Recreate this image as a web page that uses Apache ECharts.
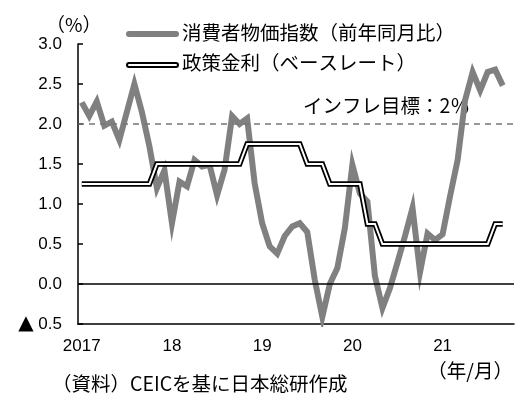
<!DOCTYPE html>
<html>
<head>
<meta charset="utf-8">
<script src="https://cdn.jsdelivr.net/npm/echarts@6/dist/echarts.min.js"></script>
<style>
  html, body { margin: 0; padding: 0; background: #fff; }
  #chart { width: 517px; height: 403px; }
</style>
</head>
<body>
<div id="chart"></div>
<script>
// Year labels placed under each January
const yearLabels = ['2017', '18', '19', '20', '21'];

// Monthly categories: Jan 2017 – Oct 2021
const months = [];
yearLabels.forEach(function (label, k) {
  for (let m = 1; m <= 12; m++) months.push((2017 + k) + '/' + m);
});
months.length = 58;

// Consumer price index, year-on-year change (%)
const cpi = [
  2.27, 2.10, 2.28, 1.98, 2.03, 1.80, 2.15, 2.50, 2.15, 1.72, 1.20, 1.42,
  0.76, 1.28, 1.22, 1.55, 1.47, 1.49, 1.11, 1.43, 2.10, 2.00, 2.07, 1.26,
  0.76, 0.47, 0.38, 0.60, 0.72, 0.76, 0.65, 0.05, -0.41, 0.00, 0.20, 0.70,
  1.49, 1.13, 1.03, 0.10, -0.30, -0.05, 0.27, 0.60, 0.95, 0.15, 0.63, 0.55,
  0.62, 1.10, 1.55, 2.30, 2.65, 2.42, 2.65, 2.68, 2.48
];

// Policy rate (base rate, %)
const policyRate = [
  1.25, 1.25, 1.25, 1.25, 1.25, 1.25, 1.25, 1.25, 1.25, 1.25, 1.50, 1.50,
  1.50, 1.50, 1.50, 1.50, 1.50, 1.50, 1.50, 1.50, 1.50, 1.50, 1.75, 1.75,
  1.75, 1.75, 1.75, 1.75, 1.75, 1.75, 1.50, 1.50, 1.50, 1.25, 1.25, 1.25,
  1.25, 1.25, 0.75, 0.75, 0.50, 0.50, 0.50, 0.50, 0.50, 0.50, 0.50, 0.50,
  0.50, 0.50, 0.50, 0.50, 0.50, 0.50, 0.50, 0.75, 0.75
];

// Inflation target (%)
const inflationTarget = 2;

const cpiName = '消費者物価指数（前年同月比）';
const rateName = '政策金利（ベースレート）';

const NUM_FONT = "'Liberation Sans', Arial, 'Noto Sans CJK JP', sans-serif";
const JP_FONT = "'Noto Sans CJK JP', 'Noto Sans', sans-serif";
const JP_SIZE = '19.5px ';
const GRAY = '#808080';

const chart = echarts.init(document.getElementById('chart'), null, { renderer: 'canvas' });

const option = {
  animation: false,
  backgroundColor: '#fff',
  grid: { left: 78, right: 3, top: 44, bottom: 79, containLabel: false },
  xAxis: {
    type: 'category',
    data: months,
    boundaryGap: true,
    axisLine: { onZero: false, lineStyle: { color: '#000', width: 1.5 } },
    axisTick: { interval: 11, length: 5, lineStyle: { color: '#000', width: 1.5 } },
    axisLabel: {
      interval: 11,
      margin: 14,
      color: '#000',
      fontFamily: NUM_FONT,
      fontSize: 17,
      formatter: function (value, idx) { return yearLabels[Math.floor(idx / 12)]; }
    },
    splitLine: { show: false }
  },
  yAxis: {
    type: 'value',
    min: -0.5,
    max: 3.0,
    interval: 0.5,
    axisLine: { show: true, lineStyle: { color: '#000', width: 1.5 } },
    axisTick: { show: true, inside: true, length: 5, lineStyle: { color: '#000', width: 1.5 } },
    axisLabel: {
      margin: 16,
      color: '#000',
      fontFamily: NUM_FONT,
      fontSize: 17,
      formatter: function (v) {
        return v < 0 ? '{tri|▲}{num| ' + Math.abs(v).toFixed(1) + '}' : v.toFixed(1);
      },
      rich: {
        tri: { fontFamily: "'DejaVu Sans', sans-serif", fontSize: 20, color: '#000' },
        num: { fontFamily: NUM_FONT, fontSize: 17, color: '#000' }
      }
    },
    splitLine: { show: false }
  },
  series: [
    {
      name: cpiName,
      type: 'line',
      data: cpi,
      showSymbol: false,
      z: 2,
      lineStyle: { color: GRAY, width: 6, join: 'miter' },
      markLine: {
        silent: true,
        symbol: 'none',
        label: { show: false },
        data: [
          { yAxis: inflationTarget, lineStyle: { color: '#777', width: 1.5, type: [6, 5] } }
        ]
      }
    },
    {
      name: rateName,
      type: 'line',
      data: policyRate,
      showSymbol: false,
      z: 3,
      lineStyle: { color: '#000', width: 5.5, join: 'miter' },
      markLine: {
        silent: true,
        symbol: 'none',
        label: { show: false },
        data: [
          { yAxis: 0, lineStyle: { color: '#000', width: 1.5, type: 'solid' } }
        ]
      }
    },
    {
      name: rateName + ' inner',
      type: 'line',
      data: policyRate,
      showSymbol: false,
      z: 4,
      lineStyle: { color: '#fff', width: 2, join: 'miter' }
    }
  ],
  graphic: [
    // unit
    { type: 'text', left: 46, top: 15, style: { text: '（%）', font: '19px ' + JP_FONT, fill: '#000' } },
    // legend: CPI
    { type: 'line', shape: { x1: 129, y1: 34, x2: 176, y2: 34 }, style: { stroke: GRAY, lineWidth: 6, lineCap: 'round' } },
    { type: 'text', left: 182, top: 23, style: { text: cpiName, font: JP_SIZE + JP_FONT, fill: '#000' } },
    // legend: policy rate (double line)
    { type: 'line', shape: { x1: 129, y1: 65, x2: 176, y2: 65 }, style: { stroke: '#000', lineWidth: 6, lineCap: 'round' } },
    { type: 'line', shape: { x1: 129, y1: 65, x2: 176, y2: 65 }, style: { stroke: '#fff', lineWidth: 2, lineCap: 'round' } },
    { type: 'text', left: 182, top: 53, style: { text: rateName, font: JP_SIZE + JP_FONT, fill: '#000' } },
    // inflation target label
    { type: 'text', left: 303, top: 96, style: { text: 'インフレ目標：' + inflationTarget + '％', font: JP_SIZE + JP_FONT, fill: '#000' } },
    // axis unit
    { type: 'text', right: 4, top: 361, style: { text: '（年/月）', font: JP_SIZE + JP_FONT, fill: '#000' } },
    // source note
    { type: 'text', left: 52, top: 374, style: { text: '（資料）CEICを基に日本総研作成', font: JP_SIZE + JP_FONT, fill: '#000' } }
  ]
};

chart.setOption(option);
</script>
</body>
</html>
